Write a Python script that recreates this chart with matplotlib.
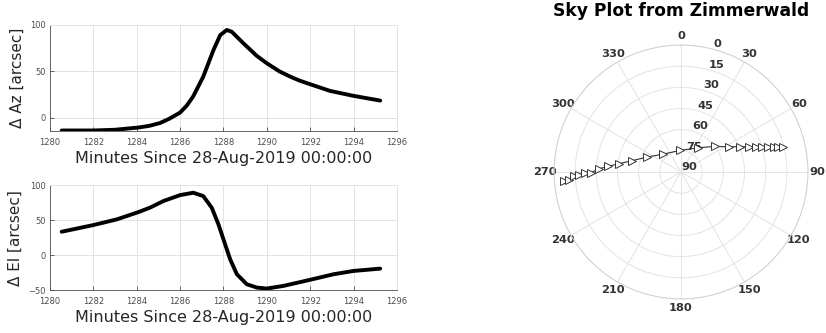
import numpy as np
import matplotlib
matplotlib.use("Agg")
import matplotlib.pyplot as plt

# ─── residual time series (minutes since 28-Aug-2019 00:00:00) ─────────
az_t = [1280.54, 1282.0, 1283.0, 1284.08, 1284.6, 1285.08, 1285.5, 1286.0, 1286.3,
        1286.6, 1287.07, 1287.54, 1287.85, 1288.15, 1288.38, 1288.92, 1289.54,
        1290.0, 1290.6, 1291.08, 1291.5, 1292.0, 1292.92, 1294.0, 1295.23]
az_res = [-13.6, -13.6, -12.8, -10.4, -8.5, -5.5, -1.0, 5.7, 13.0,
          22.9, 44.4, 73.0, 89.0, 94.6, 92.8, 80.3, 66.7,
          58.8, 49.8, 44.4, 40.2, 36.2, 29.0, 23.7, 18.6]

el_t = [1280.54, 1282.0, 1283.08, 1284.08, 1284.61, 1285.23, 1286.0, 1286.61, 1287.07,
        1287.46, 1287.77, 1288.0, 1288.31, 1288.62, 1289.08, 1289.54, 1290.0,
        1290.77, 1291.85, 1293.08, 1294.0, 1295.23]
el_res = [33.6, 43.1, 51.2, 61.6, 67.9, 77.3, 85.8, 89.2, 84.4,
          67.9, 44.1, 22.8, -5.7, -27.0, -41.3, -46.0, -47.4,
          -43.6, -36.0, -27.0, -22.3, -19.0]

# ─── sky track (azimuth deg, elevation deg) ─────────────────────────
sky_az = [265.5, 266.1, 267.7, 268.5, 269.4, 269.6, 272.3, 274.4, 277.7, 282.9,
          293.6, 315.5, 357.4, 35.5, 53.0, 62.2, 67.0, 69.9, 71.8, 73.1,
          74.2, 75.1, 75.8, 76.4]
sky_el = [6.7, 10.3, 13.9, 17.5, 21.8, 26.2, 32.1, 38.1, 45.8, 54.3,
          63.6, 72.2, 74.7, 68.9, 59.9, 51.7, 44.2, 38.6, 34.3, 30.0,
          25.9, 22.1, 19.1, 15.7]

XTICKS = list(range(1280, 1297, 2))
GRID = "#e3e3e3"
TXT = "#262626"

fig = plt.figure(figsize=(8.26, 3.33), dpi=100)


def residual_axes(rect, t, v, ylabel, ylim, yticks):
    ax = fig.add_axes(rect)
    ax.plot(t, v, color="black", linewidth=2.8, solid_capstyle="round",
            solid_joinstyle="round")
    ax.set_xlim(1280, 1296)
    ax.set_ylim(*ylim)
    ax.set_xticks(XTICKS)
    ax.set_yticks(yticks)
    ax.tick_params(labelsize=6, colors="#4d4d4d", direction="in", length=3, width=0.6)
    ax.tick_params(axis="x", pad=5)
    ax.tick_params(axis="y", pad=3)
    ax.grid(True, color=GRID, linewidth=0.7)
    ax.set_axisbelow(True)
    for s in ("left", "bottom"):
        ax.spines[s].set_color("#4d4d4d")
        ax.spines[s].set_linewidth(0.6)
    for s in ("top", "right"):
        ax.spines[s].set_color(GRID)
        ax.spines[s].set_linewidth(0.7)
    ax.set_xlabel("Minutes Since 28-Aug-2019 00:00:00", fontsize=11.5, color=TXT,
                  labelpad=3)
    ax.set_ylabel(ylabel, fontsize=11, color=TXT, labelpad=4)
    return ax


residual_axes([0.0605, 0.607, 0.42, 0.318], az_t, az_res, "Δ Az [arcsec]",
              (-14, 100), [0, 50, 100])
residual_axes([0.0605, 0.128, 0.42, 0.316], el_t, el_res, "Δ El [arcsec]",
              (-50, 100), [-50, 0, 50, 100])

# ─── sky plot ───────────────────────────────────────────────────────
pax = fig.add_axes([0.6707, 0.102, 0.3075, 0.763], projection="polar")
pax.set_theta_zero_location("N")
pax.set_theta_direction(-1)
pax.set_rlim(0, 90)
pax.plot(np.radians(sky_az), 90 - np.array(sky_el), color="#333333", linewidth=0.8,
         marker=">", markersize=5.5, markerfacecolor="white", markeredgecolor="#333333",
         markeredgewidth=0.7)
pax.set_thetagrids(range(0, 360, 30), [str(a) for a in range(0, 360, 30)],
                   fontsize=8.2, fontweight="bold", color="#333333")
pax.tick_params(axis="x", pad=-4)
pax.set_rgrids([0, 15, 30, 45, 60, 75, 90], ["90", "75", "60", "45", "30", "15", "0"],
               angle=15, fontsize=8.2, fontweight="bold", color="#333333")
pax.grid(True, color=GRID, linewidth=0.7)
pax.spines["polar"].set_color("#d0d0d0")
pax.spines["polar"].set_linewidth(0.7)
fig.text(0.8245, 1 - 11 / 333, "Sky Plot from Zimmerwald", fontsize=12.3,
         fontweight="bold", ha="center", va="center")

fig.savefig("out.png", dpi=100, facecolor="white")
